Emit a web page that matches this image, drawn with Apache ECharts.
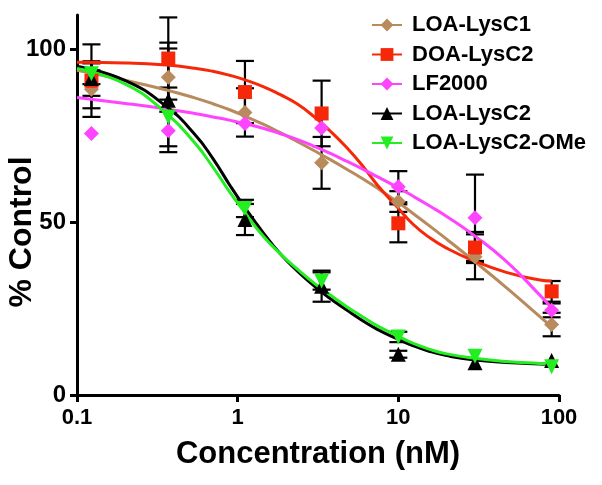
<!DOCTYPE html>
<html>
<head>
<meta charset="utf-8">
<script src="https://cdn.jsdelivr.net/npm/echarts@6/dist/echarts.min.js"></script>
<style>html,body{margin:0;padding:0;background:#fff}#c{width:602px;height:485px}</style>
</head>
<body>
<div id="c"></div>
<script>
// ---- data ----
const seriesNames = ['LOA-LysC1', 'DOA-LysC2', 'LF2000', 'LOA-LysC2', 'LOA-LysC2-OMe'];
const xTickLabels = ['0.1', '1', '10', '100'];
const yTickValues = [0, 50, 100];

// measured points (concentration nM)
const concX = [0.123, 0.37, 1.11, 3.33, 10, 30, 90];
const lysC1Y   = [88.5, 92.0, 81.8, 67.2, 56.0, 40.0, 20.4];
const lysC1Err = [5.5, 10, 7, 7.5, 3, 6.5, 3.4];
const doaY     = [91.0, 97.4, 87.7, 81.5, 49.7, 42.7, 30.0];
const doaErr   = [10.5, 11.9, 9, 9.5, 5.5, 4.5, 3];
const lfY      = [75.7, 76.5, 78.6, 77.3, 60.3, 51.3, 24.5];
const lfErr    = [0, 0, 0, 0, 4.5, 12.5, 2];
const lysC2Y   = [91.6, 85.3, 50.8, 31.5, 11.8, 9.3, 10.0];
const lysC2Err = [5, 15, 4.5, 4.5, 1, 0, 0];
const omeY     = [93.0, 80.5, 54.0, 33.0, 16.8, 11.2, 8.2];
const omeErr   = [3, 8.5, 2.5, 2.5, 1.5, 0, 0];

// fitted curves
const curveX     = [0.1, 0.2, 0.36, 0.54, 0.7, 0.9, 1.1, 1.44, 1.83, 2.34, 3.0, 3.75, 4.8, 6.0, 7.4, 9.8, 12.3, 15.7, 20, 29, 47, 76, 90];
const lysC1Curve = [94, 91.1, 88.3, 86.0, 84.3, 82.5, 80.8, 78.4, 76.0, 73.4, 70.7, 68.2, 65.3, 62.6, 59.9, 56.0, 52.6, 48.9, 45.1, 39.1, 31.1, 22.7, 19.8];
const doaCurve   = [96.3, 96.1, 95.5, 94.6, 93.7, 92.5, 91.3, 89.3, 87, 84.3, 80.5, 76.5, 71.5, 66.3, 60.8, 54.5, 49.5, 45.5, 42.5, 39, 35.5, 33.3, 33];
const lfCurve    = [86.1, 84.4, 82.8, 81.5, 80.5, 79.5, 78.6, 77.2, 75.7, 74.0, 72.0, 70.0, 67.6, 65.4, 63.2, 60.2, 57.6, 54.7, 51.7, 46.5, 38.7, 28.9, 25.2];
const lysC2Curve = [95.2, 91, 83.5, 75.5, 68.5, 60.5, 54.5, 47, 41, 36, 31.5, 28, 24.5, 21.5, 19, 16.3, 14.3, 12.6, 11.4, 10.2, 9.4, 9.0, 8.9];
const omeCurve   = [94.5, 90, 81.5, 73, 66, 58.5, 53, 46, 41, 36.5, 32.3, 29, 25.5, 22.6, 20, 17.2, 15, 13.2, 11.9, 10.7, 9.7, 9.1, 8.9];

// ---- styling ----
const colors = ['#B88A5C', '#F5280A', '#FF44FF', '#000000', '#22EE22'];
const symbols = ['diamond', 'rect', 'diamond', 'triangle', 'triangle'];
const rotates = [0, 0, 0, 0, 180];
const pointsY = [lysC1Y, doaY, lfY, lysC2Y, omeY];
const errs = [lysC1Err, doaErr, lfErr, lysC2Err, omeErr];
const curves = [lysC1Curve, doaCurve, lfCurve, lysC2Curve, omeCurve];
const FONT = '"Liberation Sans", Arial, Helvetica, sans-serif';

function errRender(params, api) {
  const x = api.value(0), lo = api.value(1), hi = api.value(2);
  const p1 = api.coord([x, hi]), p2 = api.coord([x, lo]);
  const w = 9;
  const style = {stroke: '#000', lineWidth: 2.2};
  return {type: 'group', children: [
    {type: 'line', shape: {x1: p1[0], y1: p1[1], x2: p2[0], y2: p2[1]}, style: style},
    {type: 'line', shape: {x1: p1[0] - w, y1: p1[1], x2: p1[0] + w, y2: p1[1]}, style: style},
    {type: 'line', shape: {x1: p2[0] - w, y1: p2[1], x2: p2[0] + w, y2: p2[1]}, style: style}
  ]};
}

const series = [];
// curves first (legend takes icon from them)
seriesNames.forEach((name, k) => {
  series.push({
    name: name, type: 'line', smooth: 0.5, showSymbol: false,
    symbol: symbols[k], symbolRotate: rotates[k], symbolSize: 14,
    data: curveX.map((x, i) => [x, curves[k][i]]),
    lineStyle: {color: colors[k], width: 3},
    itemStyle: {color: colors[k]},
    z: 3 + k
  });
});
// error bars
seriesNames.forEach((name, k) => {
  const d = [];
  concX.forEach((x, i) => { if (errs[k][i] > 0) d.push([x, pointsY[k][i] - errs[k][i], pointsY[k][i] + errs[k][i]]); });
  series.push({type: 'custom', name: 'err' + k, renderItem: errRender, data: d, z: 2, silent: true,
               encode: {x: 0, y: [1, 2]}});
});
// points
seriesNames.forEach((name, k) => {
  series.push({
    name: 'pts' + k, type: 'scatter', symbol: symbols[k], symbolRotate: rotates[k],
    symbolSize: k === 1 ? 14 : 15,
    data: concX.map((x, i) => [x, pointsY[k][i]]),
    itemStyle: {color: colors[k], opacity: 1}, z: 10 + k
  });
});

const chart = echarts.init(document.getElementById('c'), null, {renderer: 'canvas'});
chart.setOption({
  animation: false,
  backgroundColor: '#fff',
  grid: {left: 77, right: 43, top: 15, bottom: 90, containLabel: false},
  legend: {
    data: seriesNames, orient: 'vertical', left: 366, top: 9,
    itemWidth: 30, itemHeight: 16, itemGap: 7.5,
    textStyle: {fontFamily: FONT, fontWeight: 'bold', fontSize: 22, color: '#000', padding: [0, 0, 0, 5]}
  },
  xAxis: {
    type: 'log', logBase: 10, min: 0.1, max: 100,
    name: 'Concentration (nM)', nameLocation: 'middle', nameGap: 44,
    nameTextStyle: {fontFamily: FONT, fontWeight: 'bold', fontSize: 31, color: '#000'},
    axisLine: {lineStyle: {color: '#000', width: 3}},
    axisTick: {show: true, length: 7, lineStyle: {color: '#000', width: 3}},
    minorTick: {show: false},
    axisLabel: {fontFamily: FONT, fontWeight: 'bold', fontSize: 22, color: '#000', margin: 12,
                formatter: v => xTickLabels.find(t => Math.abs(parseFloat(t) - v) < 1e-9 * Math.max(1, v)) || ''},
    splitLine: {show: false}
  },
  yAxis: {
    type: 'value', min: 0, max: 110, interval: 50,
    axisLine: {show: true, lineStyle: {color: '#000', width: 3}},
    axisTick: {show: true, length: 7, lineStyle: {color: '#000', width: 3}, customValues: yTickValues},
    axisLabel: {fontFamily: FONT, fontWeight: 'bold', fontSize: 24, color: '#000', margin: 11, customValues: yTickValues},
    splitLine: {show: false}
  },
  graphic: [{
    type: 'text', x: 22, y: 232, rotation: Math.PI / 2,
    style: {text: '% Control', fontFamily: FONT, fontWeight: 'bold', fontSize: 32, fill: '#000',
            align: 'center', verticalAlign: 'middle'}
  }],
  series: series
});
</script>
</body>
</html>
